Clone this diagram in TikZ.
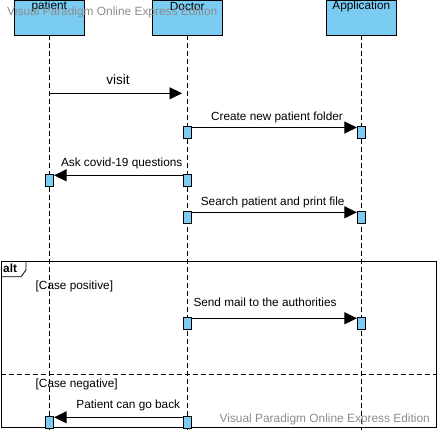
\documentclass[tikz,border=0pt]{standalone}
\usepackage{fontspec}
\setmainfont{Liberation Sans}
\usetikzlibrary{arrows.meta}
\definecolor{actblue}{RGB}{122,204,242}
\definecolor{wmgray}{RGB}{140,140,140}
\begin{document}
\begin{tikzpicture}[x=1pt,y=-1pt,
  head/.style={draw, fill=actblue, minimum width=70pt, minimum height=35pt, inner sep=0pt, line width=0.9pt},
  act/.style={draw, fill=actblue, minimum width=8pt, minimum height=12pt, inner sep=0pt, anchor=north, line width=0.8pt},
  life/.style={dash pattern=on 5pt off 3pt, line width=0.8pt},
  msg/.style={line width=0.8pt, -{Triangle[length=12.5pt,width=12pt]}},
  lbl/.style={font=\fontsize{11.8}{13}\selectfont, inner sep=0pt},
  wm/.style={font=\fontsize{11.9}{13}\selectfont, text=wmgray, inner sep=0pt}
]
\useasboundingbox (0,0) rectangle (437,430);
\clip (0,0) rectangle (437,430);
% heads
\node[head] (P) at (49.3,17.5) {};
\node[head] (D) at (187.3,17.5) {};
\node[head] (A) at (361.3,17.5) {};
\node[lbl] (Pt) at (49.3,6.8) {patient};
\node[lbl] (Dt) at (187.3,6.8) {Doctor};
\node[lbl] (At) at (361.3,6.8) {Application};
% lifelines
\coordinate (Pe) at (49.3,432);
\coordinate (De) at (187.3,432);
\coordinate (Ae) at (361.3,432);
\draw[life] (P.south) -- (Pe);
\draw[life] (D.south) -- (De);
\draw[life] (A.south) -- (Ae);
% alt frame
\draw[line width=0.9pt] (1,261) rectangle (436,427.3);
\draw[line width=0.8pt] (1,276.7) -- (21,276.7) -- (26,270) -- (26,261);
\node[lbl, font=\bfseries\fontsize{11.8}{13}\selectfont, anchor=west] (altt) at (3,268.5) {alt};
\coordinate (s1) at (1,374.3);
\coordinate (s2) at (436,374.3);
\draw[dash pattern=on 5pt off 3pt, line width=0.8pt] (s1) -- (s2);
\node[lbl, anchor=west] (cp) at (35.5,286.5) {[Case positive]};
\node[lbl, anchor=west] (cn) at (35.5,384) {[Case negative]};
% visit
\coordinate (v1) at (49.3,93.3);
\coordinate (v2) at (182,93.3);
\draw[msg] (v1) -- (v2);
\node[lbl, font=\fontsize{13.5}{15}\selectfont] (vl) at (118,79.5) {visit};
% create new patient folder
\node[act] (a1) at (187.7,126) {};
\node[act] (a2) at (361.3,126) {};
\draw[msg] ([yshift=-1.5pt]a1.north east) -- ([yshift=-1.5pt]a2.north west);
\node[lbl] (l1) at (277,117.5) {Create new patient folder};
% ask covid
\node[act] (a3) at (49.7,174.3) {};
\node[act] (a4) at (187.7,174.3) {};
\draw[msg] ([yshift=-1pt]a4.north west) -- ([yshift=-1pt]a3.north east);
\node[lbl] (l2) at (121.7,163.5) {Ask covid-19 questions};
% search patient
\node[act] (a5) at (187.7,211.3) {};
\node[act] (a6) at (361.3,211.3) {};
\draw[msg] ([yshift=-1pt]a5.north east) -- ([yshift=-1pt]a6.north west);
\node[lbl] (l3) at (272.7,202) {Search patient and print file};
% send mail
\node[act] (a7) at (187.7,317.3) {};
\node[act] (a8) at (361.3,317.3) {};
\draw[msg] ([yshift=-1pt]a7.north east) -- ([yshift=-1pt]a8.north west);
\node[lbl] (l4) at (265,302.7) {Send mail to the authorities};
% patient can go back
\node[act] (a9) at (49.7,416.3) {};
\node[act] (a10) at (187.7,416.3) {};
\draw[msg] ([yshift=-1pt]a10.north west) -- ([yshift=-1pt]a9.north east);
\node[lbl] (l5) at (128.3,405.7) {Patient can go back};
% watermarks
\node[wm, anchor=west] (w1) at (7,12) {Visual Paradigm Online Express Edition};
\node[wm, anchor=east] (w2) at (430,419.5) {Visual Paradigm Online Express Edition};
\end{tikzpicture}
\end{document}
